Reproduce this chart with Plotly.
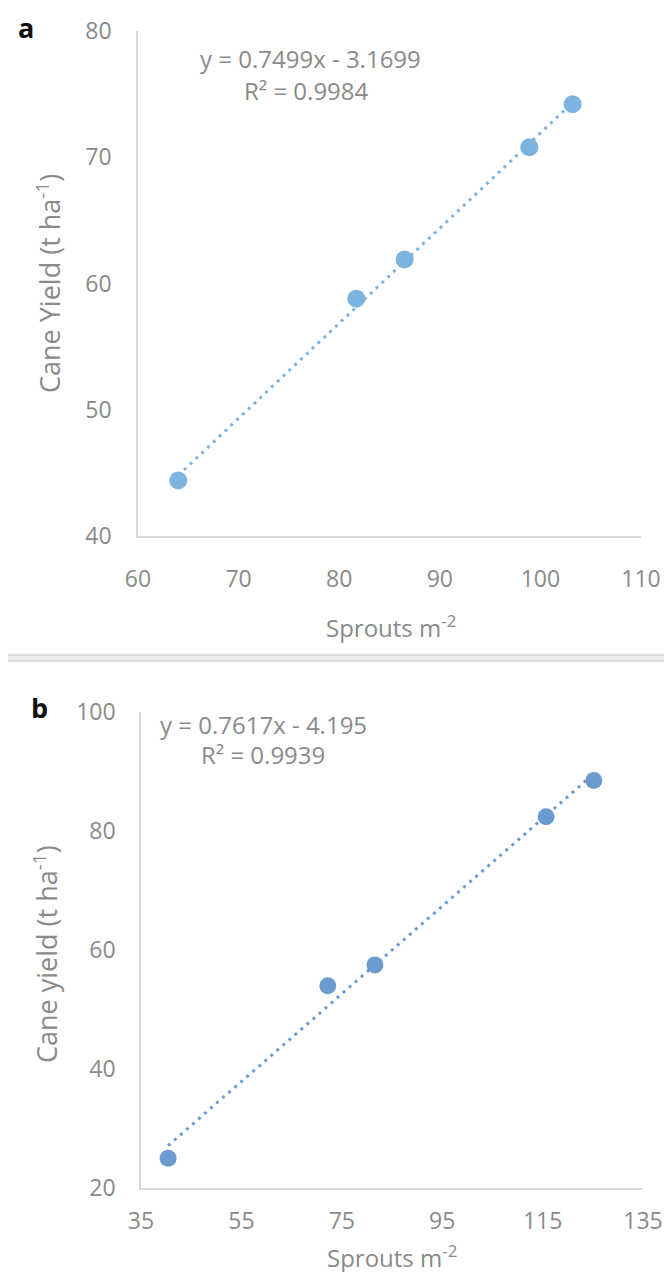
import numpy as np
import plotly.graph_objects as go

W, H = 672, 1272

# ---- data panel a ----
sprouts_a = [64.0, 81.7, 86.5, 98.9, 103.2]
yield_a = [44.4, 58.8, 61.9, 70.8, 74.2]
eq_a = ["y = 0.7499x - 3.1699", "R² = 0.9984"]
xticks_a = [60, 70, 80, 90, 100, 110]
yticks_a = [40, 50, 60, 70, 80]

# ---- data panel b ----
sprouts_b = [40.4, 72.2, 81.6, 115.7, 125.2]
yield_b = [25.0, 54.0, 57.5, 82.4, 88.5]
eq_b = ["y = 0.7617x - 4.195", "R² = 0.9939"]
xticks_b = [35, 55, 75, 95, 115, 135]
yticks_b = [20, 40, 60, 80, 100]

col_a = "#7DB4DF"
col_b = "#6B9BD1"
txt = "#8A8A8A"
axl = "#D9D9D9"
FONT = "Open Sans"


def px(x):
    return x / W


def py(y):
    return 1 - y / H


def trend(xs, ys):
    # least-squares linear trendline over the data range (as Excel draws it)
    m, c = np.polyfit(xs, ys, 1)
    x0, x1 = min(xs), max(xs)
    return [x0, x1], [m * x0 + c, m * x1 + c]


fig = go.Figure()

# panel a
tx, ty = trend(sprouts_a, yield_a)
fig.add_trace(go.Scatter(
    x=tx, y=ty, mode="lines", line=dict(color=col_a, width=3, dash="3px,5px"),
    xaxis="x", yaxis="y", showlegend=False, hoverinfo="skip"))
fig.add_trace(go.Scatter(
    x=sprouts_a, y=yield_a, mode="markers",
    marker=dict(color=col_a, size=18),
    xaxis="x", yaxis="y", showlegend=False))

# panel b
tx, ty = trend(sprouts_b, yield_b)
fig.add_trace(go.Scatter(
    x=tx, y=ty, mode="lines", line=dict(color=col_b, width=3, dash="3px,5px"),
    xaxis="x2", yaxis="y2", showlegend=False, hoverinfo="skip"))
fig.add_trace(go.Scatter(
    x=sprouts_b, y=yield_b, mode="markers",
    marker=dict(color=col_b, size=17),
    xaxis="x2", yaxis="y2", showlegend=False))

axis_common = dict(showgrid=False, zeroline=False, showline=True,
                   linecolor=axl, linewidth=1.5, ticks="", automargin=False,
                   tickfont=dict(family=FONT, size=23, color=txt))

fig.update_layout(
    width=W, height=H,
    margin=dict(l=0, r=0, t=0, b=0, pad=0),
    paper_bgcolor="white", plot_bgcolor="white",
    xaxis=dict(domain=[px(130), px(633)], range=[60, 110], tickvals=xticks_a,
               anchor="y", ticklabelstandoff=22, **axis_common),
    yaxis=dict(domain=[py(528), py(23)], range=[40, 80], tickvals=yticks_a,
               anchor="x", ticklabelstandoff=20, **axis_common),
    xaxis2=dict(domain=[px(133), px(635)], range=[35, 135], tickvals=xticks_b,
                anchor="y2", ticklabelstandoff=12, **axis_common),
    yaxis2=dict(domain=[py(1180), py(704)], range=[20, 100], tickvals=yticks_b,
                anchor="x2", ticklabelstandoff=19, **axis_common),
)

ann = []


def A(text, x, y, size=24, color=txt, bold=False, angle=0):
    ann.append(dict(text=("<b>%s</b>" % text) if bold else text,
                    x=px(x), y=py(y), xref="paper", yref="paper",
                    showarrow=False, xanchor="center", yanchor="middle",
                    textangle=angle,
                    font=dict(family=FONT, size=size, color=color)))


A("a", 18, 20, size=27, color="#111111", bold=True)
A("b", 31, 699, size=27, color="#111111", bold=True)
A(eq_a[0], 302, 50)
A(eq_a[1], 298, 82)
A(eq_b[0], 255, 716)
A(eq_b[1], 255, 746)
A("Sprouts m<sup>-2</sup>", 383, 618, size=24)
A("Sprouts m<sup>-2</sup>", 384, 1248, size=24)
A("Cane Yield (t ha<sup>-1</sup>)", 40, 276, size=27, angle=-90)
A("Cane yield (t ha<sup>-1</sup>)", 37, 946, size=27, angle=-90)
fig.update_layout(annotations=ann)

# separator band between panels
fig.add_shape(type="rect", xref="paper", yref="paper",
              x0=0, x1=1, y0=py(653), y1=py(647),
              fillcolor="#EDEDED", line=dict(width=0))
fig.add_shape(type="line", xref="paper", yref="paper",
              x0=0, x1=1, y0=py(647), y1=py(647),
              line=dict(color="#D4D4D4", width=1.5))
fig.add_shape(type="line", xref="paper", yref="paper",
              x0=0, x1=1, y0=py(653), y1=py(653),
              line=dict(color="#D4D4D4", width=1.5))

fig.write_html("out.html")
